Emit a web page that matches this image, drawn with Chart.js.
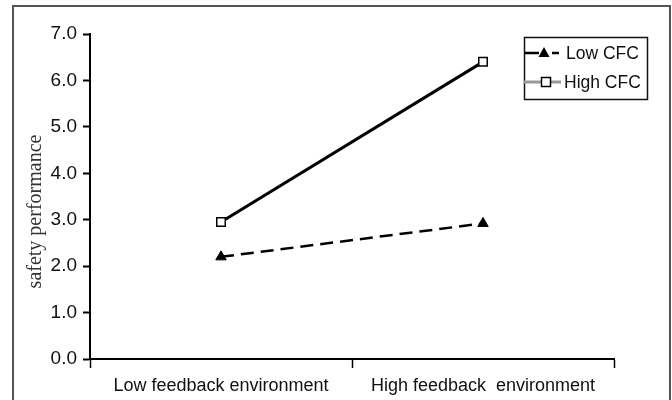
<!DOCTYPE html>
<html>
<head>
<meta charset="utf-8">
<script src="https://cdn.jsdelivr.net/npm/chart.js@4"></script>
<style>
  body { margin: 0; background: #fff; }
  #wrap { position: relative; width: 672px; height: 400px; }
  #frame { position: absolute; left: 12px; top: 5px; width: 655px; height: 400px;
           border: 2px solid #555; border-bottom: none; }
</style>
</head>
<body>
<div id="wrap">
  <div id="frame"></div>
  <canvas id="myChart" width="672" height="400"></canvas>
</div>
<script>
"use strict";

const categories = ['Low feedback environment', 'High feedback  environment'];
const lowCFC = [2.2, 2.92];
const highCFC = [2.95, 6.4];
const yTicks = [0, 1, 2, 3, 4, 5, 6, 7];

// legend box drawn by hand, the original one has line + marker samples
const legendBox = {
    id: 'legendBox',
    afterDraw(chart) {
        const ctx = chart.ctx;
        ctx.save();
        ctx.strokeStyle = '#111';
        ctx.lineWidth = 1.5;
        ctx.strokeRect(524.5, 37.5, 123, 62);

        // Low CFC
        ctx.strokeStyle = '#000';
        ctx.lineWidth = 2.5;
        ctx.beginPath();
        ctx.moveTo(524, 53); ctx.lineTo(539, 53);
        ctx.moveTo(552, 53); ctx.lineTo(559, 53);
        ctx.stroke();
        ctx.fillStyle = '#000';
        ctx.beginPath();
        ctx.moveTo(544, 47); ctx.lineTo(549.5, 57); ctx.lineTo(538.5, 57);
        ctx.closePath();
        ctx.fill();

        // High CFC
        ctx.strokeStyle = '#999';
        ctx.lineWidth = 3;
        ctx.beginPath();
        ctx.moveTo(524, 82); ctx.lineTo(541, 82);
        ctx.moveTo(550, 82); ctx.lineTo(561, 82);
        ctx.stroke();
        ctx.fillStyle = '#fff';
        ctx.strokeStyle = '#000';
        ctx.lineWidth = 1.5;
        ctx.fillRect(541.5, 77.5, 9, 9);
        ctx.strokeRect(541.5, 77.5, 9, 9);

        ctx.fillStyle = '#111';
        ctx.font = '17.5px "Liberation Sans", Arial, sans-serif';
        ctx.textBaseline = 'middle';
        ctx.fillText('Low CFC', 566, 54);
        ctx.fillText('High CFC', 564, 83);
        ctx.restore();
    }
};

const ctx = document.getElementById('myChart').getContext('2d');
const myChart = new Chart(ctx, {
    type: 'line',
    data: {
        labels: categories,
        datasets: [{
            label: 'Low CFC',
            data: lowCFC,
            borderColor: '#000',
            borderWidth: 2.5,
            borderDash: [13, 7],
            pointStyle: 'triangle',
            pointRadius: 6,
            pointBackgroundColor: '#000',
            pointBorderColor: '#000',
            pointBorderWidth: 1
        },
        {
            label: 'High CFC',
            data: highCFC,
            borderColor: '#000',
            borderWidth: 3,
            pointStyle: 'rect',
            pointRadius: 6,
            pointBackgroundColor: '#fff',
            pointBorderColor: '#000',
            pointBorderWidth: 1.5
        }]
    },
    options: {
        responsive: false,
        animation: false,
        layout: { padding: { left: 0, right: 58, top: 34, bottom: 0 } },
        plugins: {
            legend: { display: false },
            tooltip: { enabled: false }
        },
        scales: {
            x: {
                type: 'category',
                offset: true,
                grid: {
                    offset: true,
                    drawOnChartArea: false,
                    tickLength: 9,
                    tickColor: '#000',
                    tickWidth: 1.5
                },
                border: { color: '#000', width: 2 },
                ticks: {
                    color: '#111',
                    padding: 7,
                    maxRotation: 0,
                    font: { family: '"Liberation Sans", Arial, sans-serif', size: 18 }
                },
                afterFit(scale) { scale.height = 41; }
            },
            y: {
                min: 0,
                max: 7,
                afterBuildTicks(scale) {
                    scale.ticks = yTicks.map(v => ({ value: v }));
                },
                grid: {
                    drawOnChartArea: false,
                    tickLength: 7,
                    tickColor: '#000',
                    tickWidth: 2
                },
                border: { color: '#000', width: 2 },
                ticks: {
                    color: '#111',
                    padding: 6,
                    callback: v => v.toFixed(1),
                    font: { family: '"Liberation Sans", Arial, sans-serif', size: 19 }
                },
                title: {
                    display: true,
                    // trailing spaces nudge the title a bit lower, like the original
                    text: 'safety performance      ',
                    color: '#333',
                    padding: { top: 24, bottom: 0 },
                    font: { family: '"Liberation Serif", "Times New Roman", serif', size: 20 }
                },
                afterFit(scale) { scale.width = 90; }
            }
        }
    },
    plugins: [legendBox]
});
</script>
</body>
</html>
